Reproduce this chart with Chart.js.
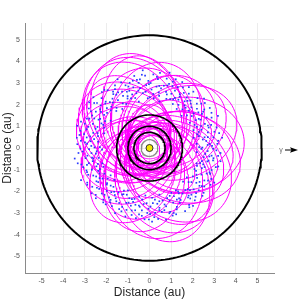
<!DOCTYPE html>
<html>
<head>
<meta charset="utf-8">
<script src="https://cdn.jsdelivr.net/npm/chart.js@4.4.0/dist/chart.umd.min.js"></script>
<style>
  html, body { margin: 0; padding: 0; background: #fff; }
  #wrap { width: 299px; height: 307px; }
</style>
</head>
<body>
<div id="wrap"><canvas id="orbitChart" width="299" height="307"></canvas></div>
<script>
// Planet orbits, radius in au
const planetNames = ['Mercury', 'Venus', 'Earth', 'Mars', 'Jupiter'];
const planetRadii = [0.387, 0.723, 1.0, 1.524, 5.203];
const planetColors = ['#8c8c8c', '#000000', '#000000', '#000000', '#000000'];
const planetWidths = [1.2, 1.6, 1.6, 1.6, 2];

// Comet / NEO orbits: semi-major axis (au), eccentricity, longitude of perihelion (deg)
const orbitA = [2.75, 2.8, 2.55, 2.55, 2.4, 2.4, 2.3, 2.65, 2.75, 2.65, 2.75,
                2.75, 2.7, 2.4, 2.35, 2.25, 2.0, 2.05, 2.5, 2.25, 2.4, 2.3,
                1.4, 1.25, 1.55, 1.45, 1.7, 1.75, 1.65, 1.55, 2.4, 2.65, 2.5,
                1.75, 1.75, 1.575, 1.825, 2.05, 1.85, 1.95, 2.2, 2.7, 2.45];
const orbitE = [0.636, 0.571, 0.686, 0.569, 0.583, 0.5, 0.696, 0.623, 0.6, 0.623, 0.564,
                0.636, 0.556, 0.625, 0.617, 0.511, 0.6, 0.512, 0.52, 0.6, 0.667, 0.609,
                0.571, 0.6, 0.548, 0.586, 0.529, 0.6, 0.515, 0.677, 0.625, 0.585, 0.48,
                0.714, 0.657, 0.714, 0.699, 0.61, 0.622, 0.692, 0.545, 0.593, 0.633];
const orbitPeri = [288, 294, 280, 258, 320, 332, 308, 205, 185, 165, 142,
                   110, 98, 80, 58, 30, 18, 352, 230, 242, 125, 152,
                   180, 270, 0, 90, 225, 45, 315, 135, 172, 118, 276,
                   200, 290, 20, 110, 340, 250, 160, 70, 300, 215];

// Main belt asteroids: [longitude (deg), distance (au)]
const beltPoints = [
  [1,2.3],[4,2.8],[6,3.2],[9,2.5],[2,2.9],[8,3.4],[5,2.2],[3,2.7],
  [11,2.6],[14,3.1],[16,2.3],[19,2.9],[12,3.3],[18,2.4],[15,2.8],[13,2.1],
  [21,2.9],[24,2.4],[26,3.2],[29,2.7],[22,2.2],[28,3.0],[25,3.5],[23,2.6],
  [31,2.5],[34,3.0],[36,2.8],[39,3.3],[32,2.2],[38,2.6],[35,3.1],[33,2.9],
  [41,2.3],[44,2.7],[46,3.2],[49,2.9],[42,3.4],[48,2.5],[45,2.1],[43,3.0],
  [51,2.8],[54,3.1],[56,2.4],[59,2.6],[52,3.3],[58,3.0],[55,2.2],[53,2.7],
  [61,3.2],[64,2.5],[66,2.9],[69,3.4],[62,2.3],[68,2.7],[65,3.1],[63,2.6],
  [71,2.4],[74,3.0],[76,3.3],[79,2.8],[72,2.6],[78,2.2],[75,3.6],[73,3.1],
  [81,2.9],[84,3.3],[86,2.5],[89,3.0],[82,3.5],[88,2.7],[85,2.3],[83,3.2],
  [91,3.1],[94,2.6],[96,3.4],[99,2.8],[92,2.3],[98,3.2],[95,3.6],[93,2.9],
  [101,2.7],[104,3.2],[106,2.4],[109,3.0],[102,3.4],[108,2.6],[105,2.9],[103,2.2],
  [111,3.1],[114,2.5],[116,2.9],[119,3.3],[112,2.8],[118,2.3],[115,3.5],[113,2.6],
  [121,2.4],[124,3.0],[126,3.3],[129,2.7],[122,2.9],[128,3.4],[125,2.2],[123,3.1],
  [131,2.8],[134,3.2],[136,2.5],[139,3.0],[132,2.3],[138,3.5],[135,2.9],[133,2.6],
  [141,3.3],[144,2.6],[146,3.0],[149,2.4],[142,2.9],[148,3.2],[145,2.2],[143,3.5],
  [151,2.7],[154,3.1],[156,2.3],[159,3.4],[152,2.9],[158,2.6],[155,3.2],[153,2.5],
  [161,3.0],[164,2.5],[166,3.3],[169,2.8],[162,2.2],[168,3.1],[165,2.7],[163,3.5],
  [171,2.6],[174,3.2],[176,2.9],[179,2.3],[172,3.4],[178,2.7],[175,3.0],[173,2.4],
  [181,2.8],[184,3.3],[186,2.5],[189,3.0],[182,2.2],[188,3.5],[185,2.7],[183,3.1],
  [191,2.4],[194,2.9],[196,3.2],[199,2.6],[192,3.4],[198,2.3],[195,3.0],[193,2.7],
  [201,3.1],[204,2.6],[206,2.9],[209,3.3],[202,2.3],[208,2.8],[205,3.5],[203,2.5],
  [211,2.7],[214,3.2],[216,2.4],[219,3.0],[212,2.9],[218,3.4],[215,2.2],[213,2.6],
  [221,3.3],[224,2.5],[226,3.0],[229,2.7],[222,2.2],[228,3.2],[225,2.8],[223,3.4],
  [231,2.6],[234,3.1],[236,2.8],[239,2.3],[232,3.3],[238,2.9],[235,2.5],[233,3.0],
  [241,2.9],[244,2.4],[246,3.2],[249,2.7],[242,3.4],[248,2.5],[245,3.0],[243,2.2],
  [251,2.5],[254,3.0],[256,2.7],[259,3.3],[252,2.8],[258,2.3],[255,3.2],[253,2.6],
  [261,3.1],[264,2.6],[266,3.3],[269,2.8],[262,2.4],[268,3.0],[265,2.2],[263,2.9],
  [271,2.7],[274,3.2],[276,2.4],[279,2.9],[272,3.4],[278,2.6],[275,3.0],[273,2.3],
  [281,3.0],[284,2.5],[286,2.8],[289,3.3],[282,2.2],[288,3.1],[285,2.7],[283,3.4],
  [291,2.6],[294,3.1],[296,2.3],[299,2.9],[292,3.3],[298,2.7],[295,3.0],[293,2.4],
  [301,2.8],[304,3.3],[306,2.6],[309,3.0],[302,2.3],[308,2.9],[305,3.2],[303,2.5],
  [311,3.2],[314,2.7],[316,3.0],[319,2.4],[312,2.9],[318,3.3],[315,2.2],[313,2.6],
  [321,2.5],[324,3.0],[326,2.8],[329,3.3],[322,2.2],[328,2.6],[325,3.1],[323,2.9],
  [331,3.1],[334,2.4],[336,2.9],[339,2.6],[332,3.4],[338,3.0],[335,2.3],[333,2.7],
  [341,2.7],[344,3.2],[346,2.5],[349,3.0],[342,2.3],[348,2.8],[345,3.3],[343,2.6],
  [351,3.0],[354,2.6],[356,3.3],[359,2.4],[352,2.8],[358,3.1],[355,2.2],[353,2.9],
  [0.5,2.45],[3.5,3.15],[7,2.65],[9.5,3.0],[10.5,2.75],[13.5,2.35],[17,3.25],[19.5,2.55],
  [20.5,3.05],[23.5,2.8],[27,2.35],[29.5,3.3],[30.5,2.65],[33.5,3.35],[37,2.45],[39.5,2.85],
  [40.5,3.15],[43.5,2.5],[47,2.8],[49.5,2.35],[50.5,2.55],[53.5,2.9],[57,3.35],[59.5,2.75],
  [60.5,2.85],[63.5,3.4],[67,2.45],[69.5,3.05],[70.5,3.25],[73.5,2.7],[77,2.95],[79.5,2.45],
  [80.5,2.6],[83.5,2.85],[87,3.4],[89.5,2.35],[90.5,2.95],[93.5,3.35],[97,2.55],[99.5,3.05],
  [100.5,3.2],[103.5,2.6],[107,3.15],[109.5,2.8],[110.5,2.45],[113.5,3.3],[117,2.7],[119.5,2.95],
  [120.5,3.15],[123.5,2.65],[127,2.85],[129.5,2.4],[130.5,3.4],[133.5,2.95],[137,2.7],[139.5,3.2],
  [140.5,2.55],[143.5,2.8],[147,3.35],[149.5,2.65],[150.5,3.05],[153.5,2.4],[157,2.85],[159.5,3.2],
  [160.5,2.65],[163.5,3.05],[167,2.45],[169.5,3.3],[170.5,2.95],[173.5,2.75],[177,3.35],[179.5,2.55],
  [180.5,3.2],[183.5,2.45],[187,2.9],[189.5,2.7],[190.5,2.65],[193.5,3.25],[197,2.5],[199.5,3.1],
  [200.5,2.85],[203.5,3.1],[207,2.6],[209.5,2.4],[210.5,3.35],[213.5,2.85],[217,3.05],[219.5,2.55],
  [220.5,2.6],[223.5,3.05],[227,2.45],[229.5,3.3],[230.5,2.95],[233.5,2.7],[237,3.2],[239.5,2.5],
  [240.5,2.45],[243.5,3.15],[247,2.75],[249.5,3.05],[250.5,3.35],[253.5,2.45],[257,2.95],[259.5,2.7],
  [260.5,2.75],[263.5,3.15],[267,2.55],[269.5,3.3],[270.5,3.05],[273.5,2.55],[277,3.3],[279.5,2.8],
  [280.5,2.5],[283.5,2.95],[287,3.15],[289.5,2.45],[290.5,3.2],[293.5,2.75],[297,2.5],[299.5,3.35],
  [300.5,2.7],[303.5,2.4],[307,3.35],[309.5,2.85],[310.5,2.55],[313.5,3.1],[317,2.8],[319.5,3.0],
  [320.5,3.25],[323.5,2.7],[327,2.4],[329.5,2.95],[330.5,2.5],[333.5,3.2],[337,3.05],[339.5,2.35],
  [340.5,3.05],[343.5,2.45],[347,2.75],[349.5,3.35],[350.5,2.55],[353.5,3.2],[357,2.7],[359.5,2.95]
];

const axisTicks = [-5, -4, -3, -2, -1, 0, 1, 2, 3, 4, 5];
const axisLimit = 5.77;

// Sun at a focus, true anomaly sampled every 2 deg
function orbitPath(a, e, peri) {
    const pts = [];
    for (let nu = 0; nu <= 360; nu += 2) {
        const t = nu * Math.PI / 180;
        const r = a * (1 - e * e) / (1 + e * Math.cos(t));
        const th = t + peri * Math.PI / 180;
        pts.push({ x: r * Math.cos(th), y: r * Math.sin(th) });
    }
    return pts;
}

const datasets = [];

orbitA.forEach((a, i) => {
    datasets.push({
        data: orbitPath(a, orbitE[i], orbitPeri[i]),
        showLine: true,
        borderColor: '#ff00ff',
        borderWidth: 1,
        pointRadius: 0,
        order: 4
    });
});

datasets.push({
    data: beltPoints.map(p => ({
        x: p[1] * Math.cos(p[0] * Math.PI / 180),
        y: p[1] * Math.sin(p[0] * Math.PI / 180)
    })),
    showLine: false,
    pointStyle: 'rect',
    pointRadius: 1.2,
    borderWidth: 0,
    backgroundColor: '#2b3bff',
    order: 3
});

planetRadii.forEach((r, i) => {
    datasets.push({
        label: planetNames[i],
        data: orbitPath(r, 0, 0),
        showLine: true,
        borderColor: planetColors[i],
        borderWidth: planetWidths[i],
        pointRadius: 0,
        order: 2
    });
});

datasets.push({
    label: 'Sun',
    data: [{ x: 0, y: 0 }],
    pointRadius: 3.5,
    backgroundColor: '#f2e600',
    borderColor: '#333333',
    borderWidth: 1,
    order: 1
});

// vernal equinox marker to the right of the axes
const equinoxArrow = {
    id: 'equinoxArrow',
    afterDraw(chart) {
        const { ctx, chartArea } = chart;
        const y = chart.scales.y.getPixelForValue(0) + 2;
        const x0 = chartArea.right + 11;
        ctx.save();
        ctx.fillStyle = '#666666';
        ctx.font = '7px "Liberation Sans", Arial, sans-serif';
        ctx.textAlign = 'center';
        ctx.textBaseline = 'middle';
        ctx.fillText('γ', x0 - 4, y);
        ctx.strokeStyle = '#000';
        ctx.lineWidth = 1;
        ctx.beginPath();
        ctx.moveTo(x0, y);
        ctx.lineTo(x0 + 7, y);
        ctx.stroke();
        ctx.fillStyle = '#000';
        ctx.beginPath();
        ctx.moveTo(x0 + 13, y);
        ctx.lineTo(x0 + 5, y - 2.8);
        ctx.lineTo(x0 + 6.5, y);
        ctx.lineTo(x0 + 5, y + 2.8);
        ctx.closePath();
        ctx.fill();
        ctx.restore();
    }
};

const tickFont = { family: '"Liberation Sans", Arial, sans-serif', size: 7 };
const titleFont = { family: '"Liberation Sans", Arial, sans-serif', size: 12 };

new Chart(document.getElementById('orbitChart').getContext('2d'), {
    type: 'scatter',
    data: { datasets: datasets },
    options: {
        responsive: false,
        animation: false,
        events: [],
        layout: { padding: { top: 23, right: 25, left: 0, bottom: 0 } },
        plugins: { legend: { display: false }, tooltip: { enabled: false } },
        elements: { line: { tension: 0 } },
        scales: {
            x: {
                type: 'linear',
                min: -axisLimit,
                max: axisLimit,
                afterBuildTicks: s => { s.ticks = axisTicks.map(v => ({ value: v })); },
                afterFit: s => { s.height = 34; },
                ticks: { font: tickFont, color: '#555555', padding: 4, includeBounds: false },
                grid: { color: '#ececec', lineWidth: 1, drawTicks: false },
                border: { color: '#8a8a8a', width: 1 },
                title: { display: true, text: 'Distance (au)', font: titleFont, color: '#262626', padding: { top: 0, bottom: 7 } }
            },
            y: {
                type: 'linear',
                min: -axisLimit,
                max: axisLimit,
                afterBuildTicks: s => { s.ticks = axisTicks.map(v => ({ value: v })); },
                afterFit: s => { s.width = 25; },
                ticks: { font: tickFont, color: '#555555', padding: 5, includeBounds: false },
                grid: { color: '#ececec', lineWidth: 1, drawTicks: false },
                border: { color: '#8a8a8a', width: 1 },
                title: { display: true, text: 'Distance (au)', font: titleFont, color: '#262626', padding: 0 }
            }
        }
    },
    plugins: [equinoxArrow]
});
</script>
</body>
</html>
